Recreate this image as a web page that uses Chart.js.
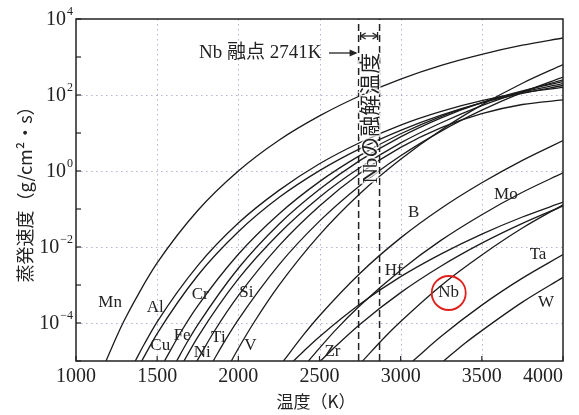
<!DOCTYPE html>
<html lang="ja">
<head>
<meta charset="utf-8">
<title>蒸発速度と温度</title>
<script src="https://cdn.jsdelivr.net/npm/chart.js@4.4.0/dist/chart.umd.min.js"></script>
<style>
    html, body { margin: 0; padding: 0; background: #fff; }
    #wrap { width: 579px; height: 415px; }
</style>
</head>
<body>
<div id="wrap"><canvas id="evapChart" width="579" height="415"></canvas></div>
<script>
// Evaporation rate curves: temperature (K) and log10 of rate (g/cm2/s)
const mnT = [1185, 1250, 1300, 1400, 1500, 1750, 2000, 2250, 2500, 2750, 3000, 3250, 3500, 3750, 4000];
const mnLog = [-5, -4.36, -3.91, -3.12, -2.42, -1.04, 0, 0.81, 1.45, 1.98, 2.42, 2.78, 3.07, 3.31, 3.5];

const alT = [1365, 1420, 1500, 1750, 2000, 2250, 2500, 2750, 3000, 3250, 3500, 3750, 4000];
const alLog = [-5, -4.56, -3.97, -2.49, -1.37, -0.51, 0.19, 0.75, 1.21, 1.57, 1.85, 2.06, 2.20];
const cuT = [1405, 1500, 1750, 2000, 2250, 2500, 2750, 3000, 3250, 3500, 3750, 4000];
const cuLog = [-5, -4.28, -2.75, -1.60, -0.70, 0.01, 0.59, 1.07, 1.47, 1.79, 2.04, 2.25];
const crT = [1545, 1650, 1750, 2000, 2250, 2500, 2750, 3000, 3250, 3500, 3750, 4000];
const crLog = [-5, -4.21, -3.55, -2.19, -1.13, -0.28, 0.41, 0.98, 1.44, 1.80, 2.08, 2.30];
const feT = [1620, 1680, 1750, 2000, 2250, 2500, 2750, 3000, 3250, 3500, 3750, 4000];
const feLog = [-5, -4.54, -4.05, -2.56, -1.40, -0.48, 0.28, 0.90, 1.40, 1.80, 2.11, 2.35];
const niT = [1665, 1750, 2000, 2250, 2500, 2750, 3000, 3250, 3500, 3750, 4000];
const niLog = [-5, -4.37, -2.84, -1.65, -0.69, 0.09, 0.74, 1.27, 1.72, 2.09, 2.40];
const siT = [1745, 1850, 2000, 2250, 2500, 2750, 3000, 3250, 3500, 3750, 4000];
const siLog = [-5, -4.23, -3.28, -1.97, -0.92, -0.06, 0.62, 1.14, 1.51, 1.75, 1.87];
const tiT = [1845, 1920, 2000, 2250, 2500, 2750, 3000, 3250, 3500, 3750, 4000];
const tiLog = [-5, -4.45, -3.91, -2.47, -1.32, -0.38, 0.40, 1.05, 1.60, 2.07, 2.47];
const vT = [1957, 2000, 2100, 2250, 2500, 2750, 3000, 3250, 3500, 3750, 4000];
const vLog = [-5, -4.67, -3.96, -3.01, -1.68, -0.59, 0.31, 1.08, 1.74, 2.31, 2.80];

const bT = [2278, 2400, 2500, 2750, 3000, 3250, 3500, 3750, 4000];
const bLog = [-5, -4.32, -3.81, -2.69, -1.76, -0.98, -0.31, 0.28, 0.8];
const hfT = [2340, 2420, 2500, 2750, 3000, 3250, 3500, 3750, 4000];
const hfLog = [-5, -4.67, -4.36, -3.50, -2.78, -2.18, -1.66, -1.21, -0.82];
const moT = [2432, 2500, 2600, 2750, 3000, 3250, 3500, 3750, 4000];
const moLog = [-5, -4.66, -4.18, -3.54, -2.61, -1.82, -1.15, -0.56, -0.05];
const zrT = [2506, 2600, 2750, 3000, 3250, 3500, 3750, 4000];
const zrLog = [-5, -4.61, -4.03, -3.20, -2.50, -1.90, -1.38, -0.92];
const nbT = [2765, 2900, 3000, 3250, 3500, 3750, 4000];
const nbLog = [-5, -4.38, -3.96, -3.01, -2.21, -1.50, -0.89];
const taT = [3075, 3250, 3500, 3750, 4000];
const taLog = [-5, -4.35, -3.53, -2.82, -2.2];
const wT = [3265, 3400, 3500, 3750, 4000];
const wLog = [-5, -4.52, -4.20, -3.45, -2.8];

// Nb melting point and the end of the melting range (dashed lines)
const meltLines = [2741, 2870];

// Axis ticks
const xTicks = [1000, 1500, 2000, 2500, 3000, 3500, 4000];
const yLabelExps = [4, 2, 0, -2, -4];

const curves = [
    ["Mn", mnT, mnLog], ["Al", alT, alLog], ["Cu", cuT, cuLog], ["Cr", crT, crLog],
    ["Fe", feT, feLog], ["Ni", niT, niLog], ["Si", siT, siLog], ["Ti", tiT, tiLog],
    ["V", vT, vLog], ["B", bT, bLog], ["Hf", hfT, hfLog], ["Mo", moT, moLog],
    ["Zr", zrT, zrLog], ["Nb", nbT, nbLog], ["Ta", taT, taLog], ["W", wT, wLog]
];

// Where the element names sit (temperature, log10 rate)
const nameSpots = [
    ["Mn", 1210, -3.47], ["Al", 1488, -3.58], ["Cu", 1519, -4.6], ["Fe", 1654, -4.32],
    ["Cr", 1765, -3.26], ["Ni", 1778, -4.79], ["Ti", 1877, -4.37], ["Si", 2049, -3.21],
    ["V", 2074, -4.58], ["Zr", 2580, -4.76], ["Hf", 2957, -2.61], ["B", 3080, -1.1],
    ["Mo", 3648, -0.63], ["Nb", 3296, -3.21], ["Ta", 3846, -2.21], ["W", 3895, -3.45]
];

const SERIF = '"Liberation Serif", "DejaVu Serif", serif';
const JP = '"Noto Sans CJK JP", sans-serif';

const datasets = curves.map(([name, ts, logs]) => ({
    label: name,
    data: ts.map((t, i) => ({ x: t, y: Math.pow(10, logs[i]) })),
    borderColor: "#1b1b1b",
    borderWidth: 1.3,
    pointRadius: 0,
    fill: false,
    cubicInterpolationMode: "monotone"
}));

meltLines.forEach(t => {
    datasets.push({
        label: "melt" + t,
        data: [{ x: t, y: 1e-5 }, { x: t, y: 1e4 }],
        borderColor: "#222",
        borderWidth: 1.5,
        borderDash: [7, 4],
        pointRadius: 0,
        fill: false
    });
});

// Grid, frame, ticks, labels and notes drawn by hand
const decorPlugin = {
    id: "decor",
    beforeDatasetsDraw(chart) {
        const { ctx, chartArea: a, scales: { x, y } } = chart;
        ctx.save();
        ctx.lineWidth = 1;
        ctx.setLineDash([1.5, 3.5]);
        ctx.strokeStyle = "rgba(130,115,175,0.55)";
        [1500, 2000, 2500, 3000, 3500].forEach(t => {
            const px = Math.round(x.getPixelForValue(t)) + 0.5;
            ctx.beginPath(); ctx.moveTo(px, a.top); ctx.lineTo(px, a.bottom); ctx.stroke();
        });
        [2, 0, -2, -4].forEach(e => {
            const py = Math.round(y.getPixelForValue(Math.pow(10, e))) + 0.5;
            ctx.beginPath(); ctx.moveTo(a.left, py); ctx.lineTo(a.right, py); ctx.stroke();
        });
        ctx.restore();
    },
    afterDatasetsDraw(chart) {
        const { ctx, chartArea: a, scales: { x, y } } = chart;
        ctx.save();

        // frame
        ctx.strokeStyle = "#222";
        ctx.lineWidth = 1.5;
        ctx.strokeRect(a.left, a.top, a.right - a.left, a.bottom - a.top);

        // inward tick marks
        ctx.lineWidth = 1.2;
        for (let e = -5; e <= 4; e++) {
            const py = y.getPixelForValue(Math.pow(10, e));
            ctx.beginPath(); ctx.moveTo(a.left, py); ctx.lineTo(a.left + 5, py); ctx.stroke();
        }
        xTicks.forEach(t => {
            const px = x.getPixelForValue(t);
            ctx.beginPath(); ctx.moveTo(px, a.bottom); ctx.lineTo(px, a.bottom - 5); ctx.stroke();
        });

        // x tick labels
        ctx.fillStyle = "#222";
        ctx.font = "20px " + SERIF;
        ctx.textBaseline = "middle";
        xTicks.forEach((t, i) => {
            const px = x.getPixelForValue(t);
            if (i === xTicks.length - 1) {
                ctx.textAlign = "right";
                ctx.fillText(String(t), a.right, a.bottom + 16);
            } else {
                ctx.textAlign = "center";
                ctx.fillText(String(t), px, a.bottom + 16);
            }
        });

        // y tick labels as 10 with a raised exponent
        yLabelExps.forEach(e => {
            const py = y.getPixelForValue(Math.pow(10, e));
            const exp = e < 0 ? "\u2212" + Math.abs(e) : String(e);
            ctx.font = "12px " + SERIF;
            ctx.textAlign = "right";
            const ew = ctx.measureText(exp).width;
            ctx.fillText(exp, 73, py - 7);
            ctx.font = "20px " + SERIF;
            ctx.fillText("10", 73 - ew - 1, py + 1);
        });

        // axis titles
        ctx.font = "17px " + JP;
        ctx.textAlign = "center";
        ctx.fillText("温度（K）", 316, 402);
        ctx.save();
        ctx.translate(25, 190);
        ctx.rotate(-Math.PI / 2);
        ctx.font = "18px " + JP;
        ctx.fillText("蒸発速度（g/cm²・s）", 0, 0);
        ctx.restore();

        // element names
        ctx.font = "17px " + SERIF;
        nameSpots.forEach(([name, t, lg]) => {
            ctx.fillText(name, x.getPixelForValue(t), y.getPixelForValue(Math.pow(10, lg)));
        });

        // red circle around Nb
        const nb = nameSpots.find(s => s[0] === "Nb");
        ctx.strokeStyle = "#e0201c";
        ctx.lineWidth = 1.8;
        ctx.beginPath();
        ctx.arc(x.getPixelForValue(nb[1]), y.getPixelForValue(Math.pow(10, nb[2])), 17, 0, Math.PI * 2);
        ctx.stroke();

        // melting point note with arrow
        const mx = x.getPixelForValue(meltLines[0]);
        const mx2 = x.getPixelForValue(meltLines[1]);
        ctx.fillStyle = "#222";
        ctx.strokeStyle = "#222";
        ctx.font = "19px " + SERIF + ", " + JP;
        ctx.textAlign = "left";
        ctx.fillText("Nb 融点 2741K", 199, 53);
        ctx.lineWidth = 1.3;
        ctx.beginPath(); ctx.moveTo(329, 53); ctx.lineTo(mx - 6, 53); ctx.stroke();
        ctx.beginPath();
        ctx.moveTo(mx - 1, 53); ctx.lineTo(mx - 9, 49.5); ctx.lineTo(mx - 9, 56.5);
        ctx.closePath(); ctx.fill();

        // range arrow between the two dashed lines
        const ay = 36;
        ctx.beginPath(); ctx.moveTo(mx + 2, ay); ctx.lineTo(mx2 - 2, ay); ctx.stroke();
        ctx.beginPath(); ctx.moveTo(mx + 2, ay - 4); ctx.lineTo(mx + 2, ay + 4); ctx.stroke();
        ctx.beginPath(); ctx.moveTo(mx2 - 2, ay - 4); ctx.lineTo(mx2 - 2, ay + 4); ctx.stroke();
        ctx.beginPath(); ctx.moveTo(mx + 2, ay); ctx.lineTo(mx + 7, ay - 3); ctx.moveTo(mx + 2, ay); ctx.lineTo(mx + 7, ay + 3); ctx.stroke();
        ctx.beginPath(); ctx.moveTo(mx2 - 2, ay); ctx.lineTo(mx2 - 7, ay - 3); ctx.moveTo(mx2 - 2, ay); ctx.lineTo(mx2 - 7, ay + 3); ctx.stroke();

        // vertical note between the dashed lines
        ctx.save();
        ctx.translate((mx + mx2) / 2 + 1, 118);
        ctx.rotate(-Math.PI / 2);
        ctx.font = "21px " + SERIF + ", " + JP;
        ctx.textAlign = "center";
        ctx.lineWidth = 3;
        ctx.strokeStyle = "rgba(255,255,255,0.8)";
        ctx.strokeText("Nbの融解温度", 0, 1);
        ctx.fillStyle = "#222";
        ctx.fillText("Nbの融解温度", 0, 1);
        ctx.restore();

        ctx.restore();
    }
};

new Chart(document.getElementById("evapChart").getContext("2d"), {
    type: "line",
    data: { datasets: datasets },
    options: {
        responsive: false,
        animation: false,
        devicePixelRatio: 1,
        layout: { padding: { left: 0, right: 16, top: 19, bottom: 0 } },
        plugins: {
            legend: { display: false },
            tooltip: { enabled: false }
        },
        scales: {
            x: {
                type: "linear",
                min: 1000,
                max: 4000,
                ticks: { display: false, stepSize: 500 },
                grid: { display: false },
                border: { display: false },
                afterFit: scale => { scale.height = 54; }
            },
            y: {
                type: "logarithmic",
                min: 1e-5,
                max: 1e4,
                ticks: { display: false },
                grid: { display: false },
                border: { display: false },
                afterFit: scale => { scale.width = 76; }
            }
        }
    },
    plugins: [decorPlugin]
});
</script>
</body>
</html>
